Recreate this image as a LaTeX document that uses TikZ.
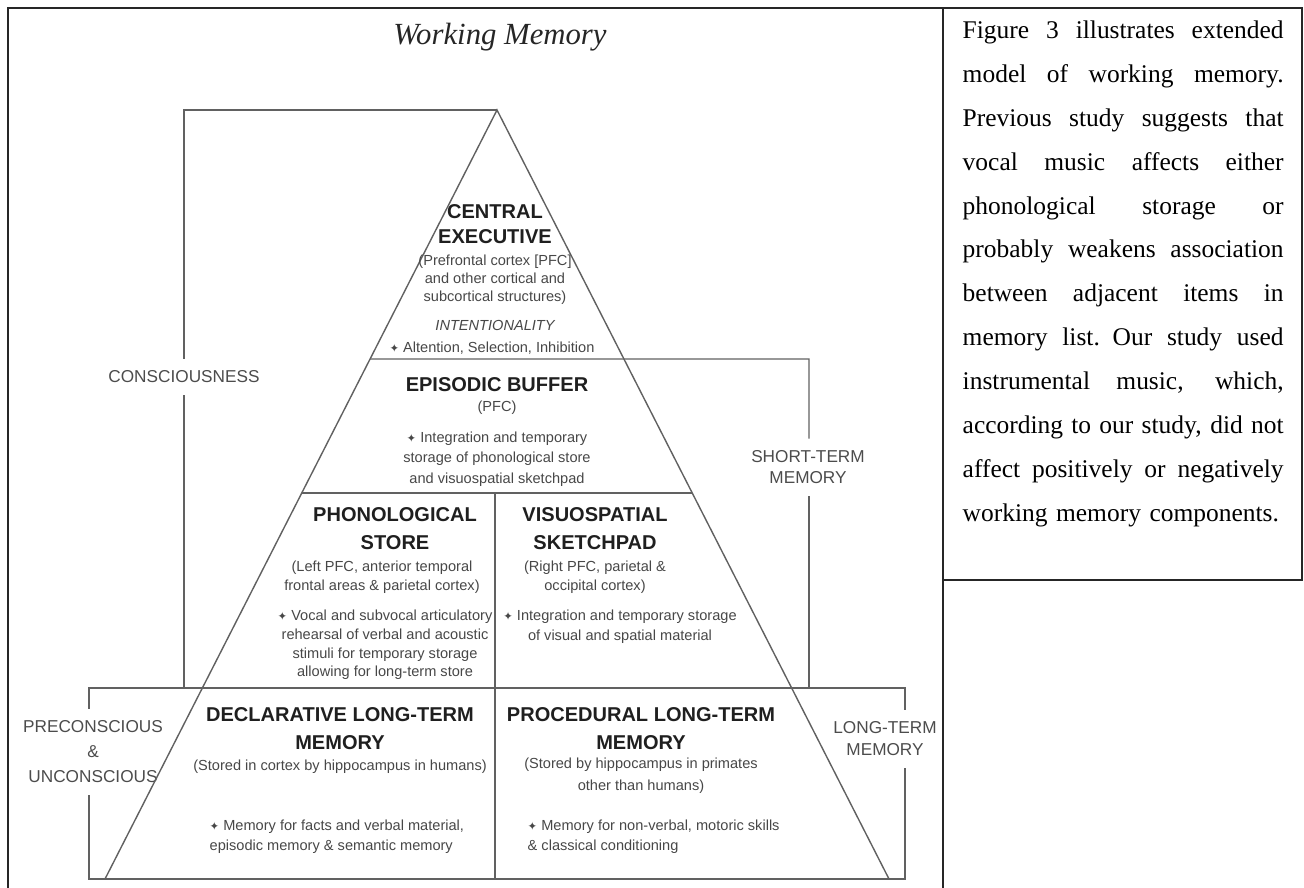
\documentclass[tikz,border=0pt]{standalone}
\usepackage{fontspec}
\setmainfont{Liberation Serif}
\setsansfont{Liberation Sans}
\newfontfamily\symfont{DejaVu Sans}
\usetikzlibrary{calc}
\tikzset{
  every picture/.style={line width=0.8pt},
  wmline/.style={draw=black!62, line width=0.8pt},
  wmframe/.style={draw=black!85, line width=1.2pt},
  wmhead/.style={font=\sffamily\bfseries\fontsize{11.4}{#1}\selectfont,
                 align=center, text=black!88, inner sep=0pt},
  wmhead/.default=15.9,
  wmnote/.style={font=\sffamily\fontsize{8.3}{#1}\selectfont,
                 align=center, text=black!72, inner sep=0pt},
  wmnote/.default=10.6,
  wmside/.style={font=\sffamily\fontsize{9.8}{#1}\selectfont,
                 align=center, text=black!70, inner xsep=2pt, inner ysep=6.5pt},
  wmside/.default=12,
}
\newcommand{\wmbul}{{\symfont\fontsize{6.5}{6.5}\selectfont ✦}}
\newcommand{\wmjust}[1]{\makebox[6.42cm][s]{\spaceskip=0.25em plus 20em\relax #1}}

\begin{document}
\begin{tikzpicture}[x=0.02cm,y=-0.02cm]
  \useasboundingbox (0,0) rectangle (1304,888);
  % pyramid and box corners
  \coordinate (apex) at (497,110);
  \coordinate (bl) at (105,879);
  \coordinate (br) at (889,879);
  \coordinate (ceL) at ($(apex)!0.3238!(bl)$);
  \coordinate (ebL) at ($(apex)!0.498!(bl)$);
  \coordinate (ebR) at ($(apex)!0.498!(br)$);
  \coordinate (midT) at (495,493);
  \coordinate (midB) at (495,879);
  \coordinate (csNW) at (184,110);
  \coordinate (stNE) at (809,359);
  \coordinate (ltNW) at (89,688);
  \coordinate (ltNE) at (905,688);
  \coordinate (ltSW) at (89,879);
  \coordinate (ltSE) at (905,879);
  \coordinate (fTL) at (8,8);
  \coordinate (fTR) at (1302,8);
  \coordinate (fBL) at (8,888);
  \coordinate (cTL) at (943,8);
  \coordinate (cBL) at (943,888);
  \coordinate (cBR) at (1302,580);

  % side labels
  \node[wmside] (cons) at (184,377) {CONSCIOUSNESS};
  \node[wmside] (stm) at (808,467.5) {SHORT-TERM\\MEMORY};
  \node[wmside=14.2] (pcu) at (93,752) {PRECONSCIOUS\\\&\\UNCONSCIOUS};
  \node[wmside=12.5] (ltm) at (885,739) {LONG-TERM\\MEMORY};

  \draw[wmline] (apex) -- (bl) -- (br) -- cycle;
  \draw[wmline] (apex) -- (csNW) -- (csNW |- cons.north);
  \draw[wmline] (csNW |- cons.south) -- (csNW |- ltNW);
  \draw[wmline] (ceL) -- (stNE) -- (stNE |- stm.north);
  \draw[wmline] (stNE |- stm.south) -- (stNE |- ltNW);
  \draw[wmline] (ebL) -- (ebR);
  \draw[wmline] (midT) -- (midB);
  \draw[wmline] (ltNW |- pcu.north) -- (ltNW) -- (ltNE) -- (ltNE |- ltm.north);
  \draw[wmline] (ltNE |- ltm.south) -- (ltSE) -- (ltSW) -- (ltSW |- pcu.south);

  \draw[wmframe] (fBL) -- (fTL) -- (fTR) -- (cBR) -- (cBR -| cTL);
  \draw[wmframe] (cTL) -- (cBL);

  \node[font=\itshape\fontsize{17.5}{20}\selectfont, text=black!85] (title)
        at (500,37) {Working Memory};

  % central executive
  \node[wmhead=14.2] (ceHead) at (495,224.5) {CENTRAL\\EXECUTIVE};
  \node[wmnote=10.2] (ceNote) at (495,280) {(Prefrontal cortex [PFC]\\and other
        cortical and\\subcortical structures)};
  \node[wmnote, font=\sffamily\itshape\fontsize{8.3}{10.6}\selectfont] (ceInt)
        at (495,325) {INTENTIONALITY};
  \node[wmnote] (ceFn) at (492,348) {\wmbul\ Altention, Selection, Inhibition};

  % episodic buffer
  \node[wmhead] (ebHead) at (497,385) {EPISODIC BUFFER};
  \node[wmnote] (ebNote) at (497,408) {(PFC)};
  \node[wmnote=11.6] (ebFn) at (497,459) {\wmbul\ Integration and temporary\\storage
        of phonological store\\and visuospatial sketchpad};

  % phonological store
  \node[wmhead] (psHead) at (395,529) {PHONOLOGICAL\\STORE};
  \node[wmnote=10.8] (psNote) at (382,577.5) {(Left PFC, anterior temporal\\frontal
        areas \& parietal cortex)};
  \node[wmnote] (psFn) at (385,645) {\wmbul\ Vocal and subvocal articulatory\\rehearsal
        of verbal and acoustic\\stimuli for temporary storage\\allowing for long-term store};

  % visuospatial sketchpad
  \node[wmhead] (vsHead) at (595,529) {VISUOSPATIAL\\SKETCHPAD};
  \node[wmnote=10.8] (vsNote) at (595,577.5) {(Right PFC, parietal \&\\occipital cortex)};
  \node[wmnote=11.4] (vsFn) at (620,627) {\wmbul\ Integration and temporary storage\\of
        visual and spatial material};

  % declarative long-term memory
  \node[wmhead] (dlHead) at (340,729) {DECLARATIVE LONG-TERM\\MEMORY};
  \node[wmnote] (dlNote) at (340,767) {(Stored in cortex by hippocampus in humans)};
  \node[wmnote=11.4, align=left, anchor=west] (dlFn) at (209,837) {\wmbul\ Memory for
        facts and verbal material,\\episodic memory \& semantic memory};

  % procedural long-term memory
  \node[wmhead] (plHead) at (641,729) {PROCEDURAL LONG-TERM\\MEMORY};
  \node[wmnote=12.5] (plNote) at (641,776) {(Stored by hippocampus in primates\\other
        than humans)};
  \node[wmnote=11.4, align=left, anchor=west] (plFn) at (527,837) {\wmbul\ Memory for
        non-verbal, motoric skills\\\& classical conditioning};

  % caption column
  \node[anchor=north west, inner sep=0pt, text width=6.42cm, align=left,
        font=\fontsize{14.5}{25}\selectfont] (caption) at (962,20)
        {\wmjust{Figure 3 illustrates extended}\\
         \wmjust{model of working memory.}\\
         \wmjust{Previous study suggests that}\\
         \wmjust{vocal music affects either}\\
         \wmjust{phonological storage or}\\
         \wmjust{probably weakens association}\\
         \wmjust{between adjacent items in}\\
         \wmjust{memory list. Our study used}\\
         \wmjust{instrumental music, which,}\\
         \wmjust{according to our study, did not}\\
         \wmjust{affect positively or negatively}\\
         \mbox{working memory components.}};
\end{tikzpicture}
\end{document}
